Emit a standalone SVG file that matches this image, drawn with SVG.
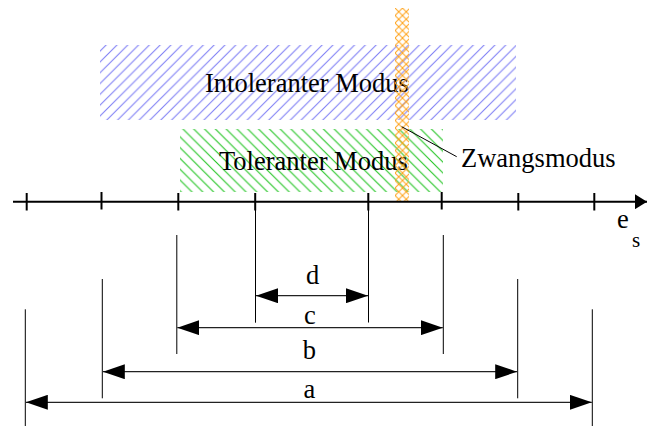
<svg xmlns="http://www.w3.org/2000/svg" width="647" height="426" viewBox="0 0 647 426">
  <style>
    text { font-family: 'Liberation Serif', 'Times New Roman', serif; font-size: 26.5px; fill: #000; }
    .axis { stroke: #000; stroke-width: 2; fill: none; }
    .tick { stroke: #000; stroke-width: 2; }
    .ext { stroke: #000; stroke-width: 1; }
    .dim { stroke: #222; stroke-width: 1.2; fill: none; marker-start: url(#ah); marker-end: url(#ah); }
  </style>
  <defs>
    <marker id="ah" viewBox="0 0 22 15" refX="22" refY="7.5" markerWidth="22" markerHeight="15" markerUnits="userSpaceOnUse" orient="auto-start-reverse">
      <path d="M0,0 L22,7.5 L0,15 Z" fill="#000"/>
    </marker>
    <marker id="axhead" viewBox="0 0 12 15" refX="12" refY="7.5" markerWidth="12" markerHeight="15" markerUnits="userSpaceOnUse" orient="auto">
      <path d="M0,0 L12,7.5 L0,15 Z" fill="#000"/>
    </marker>
    <pattern id="hatchBlue" patternUnits="userSpaceOnUse" width="10.8" height="10.8">
      <path d="M0,10.8 L10.8,0 M-2,2 L2,-2 M8.8,12.8 L12.8,8.8" stroke="#7f7ff5" stroke-width="1.1"/>
    </pattern>
    <pattern id="hatchGreen" patternUnits="userSpaceOnUse" width="10.8" height="10.8">
      <path d="M0,0 L10.8,10.8 M-2,8.8 L2,12.8 M8.8,-2 L12.8,2" stroke="#22c422" stroke-width="1.1"/>
    </pattern>
    <pattern id="crossOrange" patternUnits="userSpaceOnUse" x="395" y="8" width="7.5" height="7.5">
      <path d="M0,0 L7.5,7.5 M0,7.5 L7.5,0" stroke="#ffa31a" stroke-width="1"/>
    </pattern>
  </defs>

  <!-- operating modes -->
  <g id="intolerant">
    <rect x="100" y="45" width="416" height="75" fill="url(#hatchBlue)"/>
    <text x="205" y="92">Intoleranter Modus</text>
  </g>
  <g id="tolerant">
    <rect x="180" y="129" width="263" height="63" fill="url(#hatchGreen)"/>
    <text x="219" y="169.5">Toleranter Modus</text>
  </g>
  <g id="forced">
    <rect x="395" y="8" width="14" height="194" fill="url(#crossOrange)"/>
    <text x="461" y="166.5">Zwangsmodus</text>
  </g>

  <!-- e_s axis with ticks -->
  <g id="axis">
    <line class="axis" x1="13" y1="201.7" x2="647" y2="201.7" marker-end="url(#axhead)"/>
    <g class="tick">
      <line x1="26.7" y1="193" x2="26.7" y2="210.5"/>
      <line x1="101.5" y1="192" x2="101.5" y2="209.5"/>
      <line x1="178.3" y1="193" x2="178.3" y2="210.5"/>
      <line x1="255.2" y1="193" x2="255.2" y2="210.5"/>
      <line x1="368.3" y1="193" x2="368.3" y2="210.5"/>
      <line x1="441.7" y1="192" x2="441.7" y2="209.5"/>
      <line x1="518.3" y1="193" x2="518.3" y2="210.5"/>
      <line x1="594.3" y1="193" x2="594.3" y2="210.5"/>
    </g>
    <text x="617" y="227.5">e</text>
    <text x="632" y="247" style="font-size:21px">s</text>
  </g>

  <!-- connectors: leader line and dimension arrows -->
  <g id="connectors">
    <line x1="401.7" y1="126.7" x2="456.7" y2="156.7" stroke="#000" stroke-width="1"/>
    <g class="ext">
      <line x1="255.5" y1="209" x2="255.5" y2="322.7"/>
      <line x1="368.5" y1="209" x2="368.5" y2="322.5"/>
      <line x1="176.8" y1="235" x2="176.8" y2="354"/>
      <line x1="443.3" y1="235" x2="443.3" y2="354"/>
      <line x1="102.3" y1="279" x2="102.3" y2="398.3"/>
      <line x1="517.7" y1="279" x2="517.7" y2="398.3"/>
      <line x1="25.3" y1="309.3" x2="25.3" y2="426"/>
      <line x1="592.3" y1="309.3" x2="592.3" y2="426"/>
    </g>
    <line class="dim" x1="256" y1="295.7" x2="368" y2="295.7"/>
    <line class="dim" x1="177.3" y1="327.7" x2="442.8" y2="327.7"/>
    <line class="dim" x1="102.8" y1="371.7" x2="517.2" y2="371.7"/>
    <line class="dim" x1="25.8" y1="402.3" x2="591.8" y2="402.3"/>
  </g>

  <!-- dimension labels -->
  <g id="labels">
    <text x="312.5" y="283.5" text-anchor="middle">d</text>
    <text x="310" y="323.5" text-anchor="middle">c</text>
    <text x="309.3" y="358.5" text-anchor="middle">b</text>
    <text x="309.3" y="398" text-anchor="middle">a</text>
  </g>
</svg>
